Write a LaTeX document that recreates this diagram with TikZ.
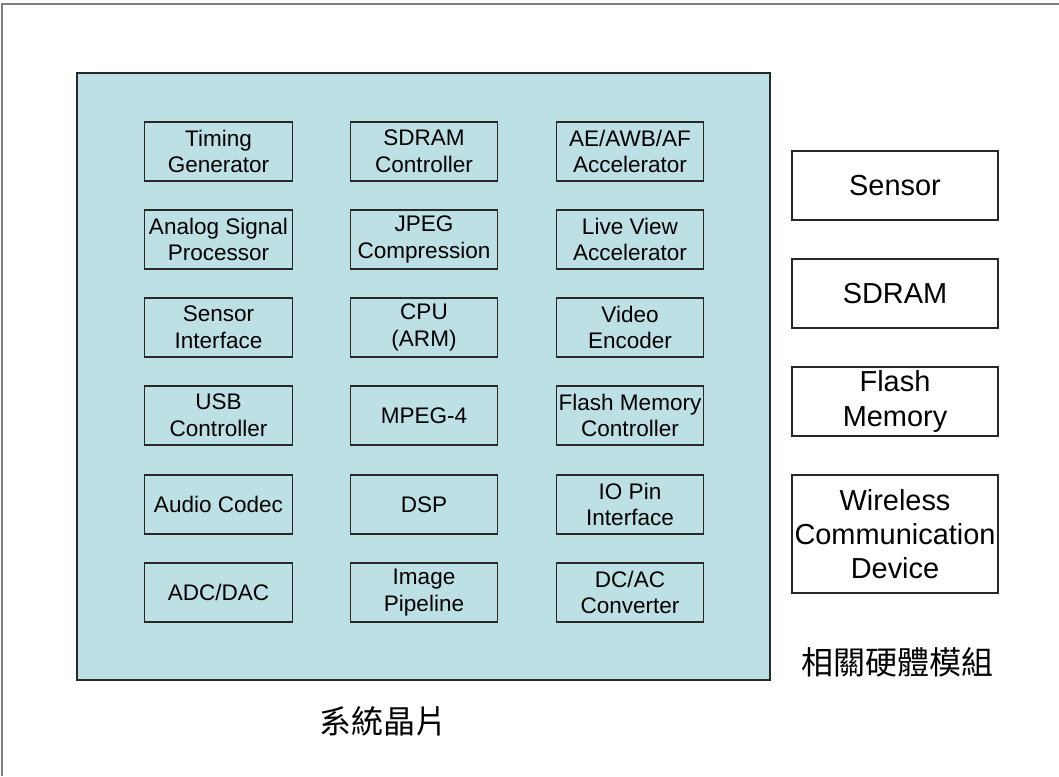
\documentclass[tikz,border=0pt]{standalone}
\usepackage{fontspec}
\setmainfont{Liberation Sans}
\newfontfamily\cjk{Noto Sans CJK TC}
\definecolor{socfill}{RGB}{188,224,228}
\definecolor{edge}{RGB}{40,40,40}
\begin{document}
\begin{tikzpicture}[x=0.75pt,y=-0.75pt,
  unit/.style={draw=edge,line width=0.8pt,inner sep=0pt,align=center,
    minimum width=110.5pt,minimum height=44.25pt,
    font=\fontsize{16.9}{20}\selectfont},
  hwbox/.style={draw=edge,line width=0.8pt,fill=white,inner sep=0pt,align=center,
    minimum width=154.5pt,minimum height=51.75pt,
    font=\fontsize{21.7}{25.7}\selectfont},
  caption/.style={inner sep=0pt,font=\cjk\fontsize{24}{28}\selectfont}]
\useasboundingbox (0,0) rectangle (1059,776);
% page frame (top and left edges)
\draw[gray,line width=1pt] (2,776) -- (2,4) -- (1059,4);
% system-on-chip area
\node[draw=edge,fill=socfill,line width=1pt,inner sep=0pt,
  minimum width=519.75pt,minimum height=455.25pt] (soc) at (423.5,376.5) {};
% functional units, three columns by six rows
\node[unit] (tg)   at (218.5,151.5) {Timing\\Generator};
\node[unit] (asp)  at (218.5,239.5) {Analog Signal\\Processor};
\node[unit] (si)   at (218.5,327.5) {Sensor\\Interface};
\node[unit] (usb)  at (218.5,415.5) {USB\\Controller};
\node[unit] (aud)  at (218.5,504.5) {Audio Codec};
\node[unit] (adc)  at (218.5,592.5) {ADC/DAC};
\node[unit] (sdc)  at (424,151.5) {SDRAM\\Controller};
\node[unit] (jpeg) at (424,239.5) {JPEG\\Compression};
\node[unit] (cpu)  at (424,327.5) {CPU\\(ARM)};
\node[unit] (mpeg) at (424,415.5) {MPEG-4};
\node[unit] (dsp)  at (424,504.5) {DSP};
\node[unit] (ipl)  at (424,592.5) {Image\\Pipeline};
\node[unit] (aaa)  at (630,151.5) {AE/AWB/AF\\Accelerator};
\node[unit] (lva)  at (630,239.5) {Live View\\Accelerator};
\node[unit] (venc) at (630,327.5) {Video\\Encoder};
\node[unit] (fmc)  at (630,415.5) {Flash Memory\\Controller};
\node[unit] (io)   at (630,504.5) {IO Pin\\Interface};
\node[unit] (dcac) at (630,592.5) {DC/AC\\Converter};
% external hardware modules
\node[hwbox] (sensor) at (895,185.5) {Sensor};
\node[hwbox] (sdram)  at (895,293.5) {SDRAM};
\node[hwbox] (flash)  at (895,401.5) {Flash\\Memory};
\node[hwbox,minimum height=88.5pt] (wcd) at (895,534) {Wireless\\Communication\\Device};
% captions
\node[caption] (hwlabel)  at (897,662) {相關硬體模組};
\node[caption] (soclabel) at (383,721) {系統晶片};
\end{tikzpicture}
\end{document}
